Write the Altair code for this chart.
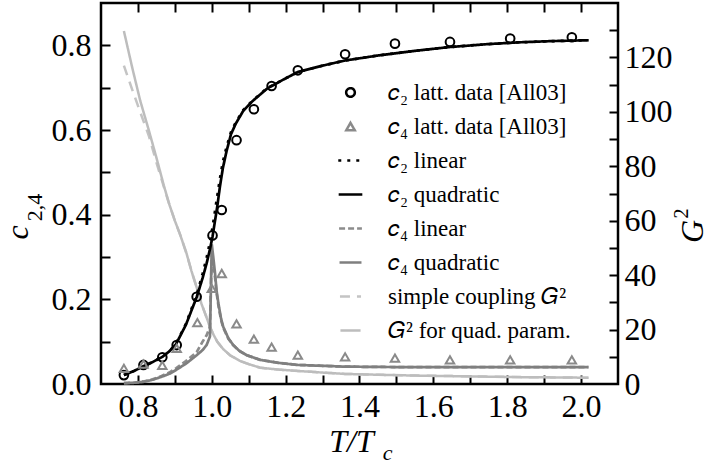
import altair as alt
import pandas as pd

# ---------------- data ----------------
c2_lat_T = [0.762, 0.815, 0.866, 0.905, 0.959, 1.002, 1.027, 1.067, 1.114, 1.162, 1.233, 1.361, 1.496, 1.645, 1.808, 1.975]
c2_lat_v = [0.021, 0.045, 0.063, 0.092, 0.206, 0.351, 0.411, 0.576, 0.649, 0.704, 0.741, 0.779, 0.804, 0.808, 0.816, 0.819]

c4_lat_T = [0.762, 0.815, 0.866, 0.905, 0.961, 1.0, 1.027, 1.067, 1.114, 1.162, 1.233, 1.361, 1.496, 1.645, 1.808, 1.975]
c4_lat_v = [0.037, 0.047, 0.044, 0.084, 0.145, 0.226, 0.261, 0.142, 0.106, 0.087, 0.068, 0.064, 0.061, 0.057, 0.057, 0.057]

c2_T = [0.762, 0.79, 0.815, 0.84, 0.866, 0.885, 0.903, 0.93, 0.959, 0.975, 0.986, 0.995, 1.002, 1.009,
        1.015, 1.022, 1.03, 1.04, 1.052, 1.065, 1.085, 1.11, 1.15, 1.2, 1.233, 1.3, 1.36, 1.45, 1.55,
        1.645, 1.75, 1.83, 1.92, 2.02]
c2_quad = [0.021, 0.031, 0.042, 0.052, 0.064, 0.077, 0.094, 0.14, 0.205, 0.25, 0.285, 0.318, 0.348, 0.387,
           0.42, 0.466, 0.51, 0.55, 0.59, 0.615, 0.645, 0.668, 0.698, 0.722, 0.737, 0.752, 0.764, 0.776, 0.787,
           0.796, 0.803, 0.807, 0.810, 0.812]
c2_lin = [0.021, 0.031, 0.042, 0.052, 0.064, 0.077, 0.095, 0.142, 0.21, 0.26, 0.298, 0.335, 0.37, 0.41,
          0.445, 0.485, 0.525, 0.56, 0.595, 0.618, 0.647, 0.669, 0.699, 0.722, 0.737, 0.752, 0.764, 0.776, 0.787,
          0.796, 0.803, 0.807, 0.810, 0.812]

c4_T = [0.762, 0.79, 0.815, 0.84, 0.864, 0.885, 0.903, 0.93, 0.959, 0.975, 0.986, 0.995, 1.0, 1.004, 1.009,
        1.013, 1.018, 1.025, 1.031, 1.045, 1.058, 1.075, 1.095, 1.131, 1.18, 1.233, 1.3, 1.36, 1.5, 1.7, 1.9, 2.02]
c4_quad = [0.002, 0.003, 0.005, 0.01, 0.017, 0.024, 0.033, 0.048, 0.068, 0.08, 0.092, 0.112, 0.33, 0.3, 0.26,
           0.22, 0.19, 0.155, 0.135, 0.108, 0.092, 0.078, 0.068, 0.057, 0.05, 0.045, 0.043, 0.041, 0.04, 0.04, 0.04, 0.04]
c4_lin = [0.002, 0.003, 0.006, 0.011, 0.019, 0.027, 0.037, 0.054, 0.075, 0.1, 0.115, 0.135, 0.31, 0.28, 0.25,
          0.215, 0.185, 0.152, 0.133, 0.107, 0.092, 0.078, 0.068, 0.057, 0.05, 0.045, 0.043, 0.041, 0.04, 0.04, 0.04, 0.04]

G_T = [0.762, 0.785, 0.806, 0.83, 0.851, 0.87, 0.885, 0.9, 0.914, 0.932, 0.945, 0.959, 0.972, 0.986, 0.995,
       1.004, 1.015, 1.031, 1.05, 1.076, 1.1, 1.131, 1.18, 1.233, 1.3, 1.361, 1.45, 1.55, 1.65, 1.75, 1.85, 1.95, 2.02]
G_quad = [129.7, 116, 104.2, 93, 82.7, 73, 66, 60, 55, 47.8, 41.5, 35.5, 29.5, 24.4, 21, 18.3, 15.5, 12.8, 10.5,
          8.5, 7.3, 6.0, 5.3, 4.8, 4.2, 3.7, 3.4, 3.1, 2.9, 2.7, 2.5, 2.4, 2.3]
G_simple = [117, 108, 100, 91, 81, 72.5, 66, 60, 55, 47.8, 41.5, 35.5, 29.5, 24.4, 21, 18.3, 15.5, 12.8, 10.5,
            8.5, 7.3, 6.0, 5.3, 4.8, 4.2, 3.7, 3.4, 3.1, 2.9, 2.7, 2.5, 2.4, 2.3]

x_ticks = [0.8, 0.9, 1.0, 1.1, 1.2, 1.3, 1.4, 1.5, 1.6, 1.7, 1.8, 1.9, 2.0]
x_labels = [0.8, 1.0, 1.2, 1.4, 1.6, 1.8, 2.0]
c_ticks = [0.1, 0.2, 0.3, 0.4, 0.5, 0.6, 0.7, 0.8]
c_labels = [0.0, 0.2, 0.4, 0.6, 0.8]
g_ticks = [10, 20, 30, 40, 50, 60, 70, 80, 90, 100, 110, 120, 130]
g_labels = [0, 20, 40, 60, 80, 100, 120]

S = ["𝑐₂ latt. data [All03]", "𝑐₄ latt. data [All03]", "𝑐₂ linear", "𝑐₂ quadratic",
     "𝑐₄ linear", "𝑐₄ quadratic", "simple coupling 𝐺²", "𝐺² for quad. param."]
colors = ["#000000", "#8a8a8a", "#000000", "#000000", "#8c8c8c", "#7f7f7f", "#c4c4c4", "#bdbdbd"]
LINE = "M-3,0H3"
shapes = ["circle", "triangle-up", LINE, LINE, LINE, LINE, LINE, LINE]
dashes = [[1, 0], [1, 0], [3, 6], [1, 0], [6, 3], [1, 0], [10, 7], [1, 0]]
sizes = [75, 45, 280, 280, 280, 280, 280, 280]

# ---------------- tables ----------------
def frame(T, v, s):
    return pd.DataFrame({"T": T, "v": v, "series": s})

df_pts = pd.concat([frame(c2_lat_T, c2_lat_v, S[0]), frame(c4_lat_T, c4_lat_v, S[1])])
df_c = pd.concat([frame(c4_T, c4_lin, S[4]), frame(c4_T, c4_quad, S[5]),
                  frame(c2_T, c2_lin, S[2]), frame(c2_T, c2_quad, S[3])])
df_gs = frame(G_T, G_simple, S[6])
df_gq = frame(G_T, G_quad, S[7])

W, H = 517, 381
FONT = "Liberation Serif, Times New Roman, Times, serif"
FS = 32

leg = dict(title=None, orient="none", legendX=238, legendY=78, labelFont=FONT, labelFontSize=23,
           labelOffset=26, rowPadding=10, symbolStrokeWidth=2.5, padding=0, labelLimit=400,
           columns=1, direction="vertical", labelColor="black")

color = alt.Color("series:N", scale=alt.Scale(domain=S, range=colors), legend=alt.Legend(**leg))
dash = alt.StrokeDash("series:N", scale=alt.Scale(domain=S, range=dashes), legend=alt.Legend(**leg))
shape = alt.Shape("series:N", scale=alt.Scale(domain=S, range=shapes), legend=alt.Legend(**leg))
size = alt.Size("series:N", scale=alt.Scale(domain=S, range=sizes), legend=alt.Legend(**leg))

xs = alt.Scale(domain=[0.7, 2.1], nice=False, zero=False)
cs = alt.Scale(domain=[0, 0.9], nice=False)
gs = alt.Scale(domain=[0, 140], nice=False)

tick_common = dict(labels=False, domain=False, grid=False, tickSize=9, tickWidth=2, tickColor="black")
tfont = dict(titleFont=FONT, titleFontWeight="normal", titleColor="black")
lfont = dict(labelFont=FONT, labelFontSize=FS, labelColor="black")

ax_x_labels = alt.Axis(orient="bottom", values=x_labels, format=".1f", ticks=False, domain=False, grid=False,
                       labelPadding=7, **lfont,
                       title="T/T", titleFontSize=FS, titleFontStyle="italic", **tfont,
                       titleX=250, titleY=67, titleAlign="center", titleBaseline="alphabetic")
ax_x_ticks_bottom = alt.Axis(orient="top", offset=-H, values=x_ticks, title=None, **tick_common)
ax_x_ticks_top = alt.Axis(orient="bottom", offset=-H, values=x_ticks,
                          title="c", titleFontSize=22, titleFontStyle="italic", **tfont,
                          titleX=286, titleY=456, titleAlign="center", titleBaseline="alphabetic",
                          **tick_common)

ax_c_labels = alt.Axis(orient="left", values=c_labels, format=".1f", ticks=False, domain=False, grid=False,
                       labelPadding=10, **lfont,
                       title="c", titleFontSize=FS, titleFontStyle="italic", **tfont, titleAngle=270,
                       titleX=-74, titleY=229, titleAlign="center", titleBaseline="alphabetic")
ax_c_ticks = alt.Axis(orient="right", offset=-W, values=c_ticks,
                      title="2,4", titleFontSize=22, **tfont,
                      titleAngle=270, titleX=-60, titleY=204,
                      titleAlign="center", titleBaseline="alphabetic", **tick_common)
ax_g_labels = alt.Axis(orient="right", values=g_labels, format="d", ticks=False, domain=False, grid=False,
                       labelPadding=6, **lfont,
                       title="G", titleFontSize=FS, titleFontStyle="italic", **tfont, titleAngle=270,
                       titleX=84, titleY=228, titleAlign="center", titleBaseline="alphabetic")
ax_g_ticks = alt.Axis(orient="left", offset=-W, values=g_ticks,
                      title="2", titleFontSize=20, **tfont,
                      titleAngle=270, titleX=69, titleY=210,
                      titleAlign="center", titleBaseline="alphabetic", **tick_common)

g_simple = alt.Chart(df_gs).mark_line(strokeWidth=2.5).encode(
    x=alt.X("T:Q", scale=xs, axis=None),
    y=alt.Y("v:Q", scale=gs, axis=ax_g_ticks),
    color=color, strokeDash=dash,
)
g_quad = alt.Chart(df_gq).mark_line(strokeWidth=2.5).encode(
    x=alt.X("T:Q", scale=xs, axis=ax_x_ticks_top),
    y=alt.Y("v:Q", scale=gs, axis=ax_g_labels),
    color=color, strokeDash=dash,
)
c_lines = alt.Chart(df_c).mark_line(strokeWidth=2.7).encode(
    x=alt.X("T:Q", scale=xs, axis=ax_x_labels),
    y=alt.Y("v:Q", scale=cs, axis=ax_c_labels),
    color=color, strokeDash=dash,
)
pts = alt.Chart(df_pts).mark_point(filled=False, strokeWidth=2, opacity=1).encode(
    x=alt.X("T:Q", scale=xs, axis=ax_x_ticks_bottom),
    y=alt.Y("v:Q", scale=cs, axis=ax_c_ticks),
    color=color, shape=shape, size=size,
)

chart = alt.layer(g_simple, g_quad, c_lines, pts).resolve_scale(
    y="independent"
).resolve_axis(
    x="independent", y="independent"
).properties(
    width=W, height=H,
    autosize=alt.AutoSizeParams(type="none"),
    padding={"left": 101, "top": 3, "right": 92, "bottom": 82},
    background="white",
).configure(
    font=FONT
).configure_axis(
    labelFont=FONT, titleFont=FONT
).configure_legend(
    labelFont=FONT
).configure_view(
    stroke="black", strokeWidth=2.5
)

chart.save("out.html", embed_options={"renderer": "svg", "actions": False})
